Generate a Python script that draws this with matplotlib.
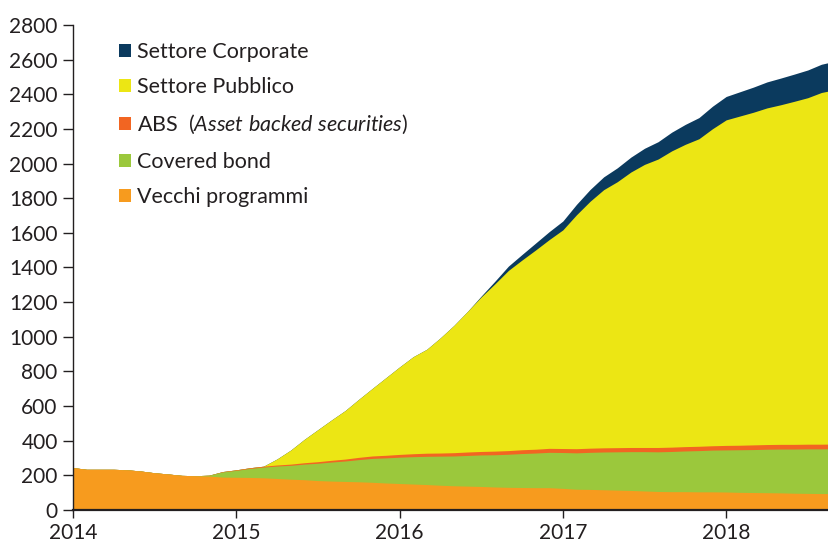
import numpy as np
import matplotlib
matplotlib.use("Agg")
import matplotlib.pyplot as plt
from matplotlib.patches import Patch

plt.rcParams['font.family'] = ['Lato', 'DejaVu Sans']
plt.rcParams['mathtext.fontset'] = 'custom'
plt.rcParams['mathtext.rm'] = 'Lato'
plt.rcParams['mathtext.it'] = 'Lato:italic'

# monthly values, Jan 2014 .. Sep 2018 (billions)
vecchi = [245, 235, 235, 235, 232, 225, 215, 208, 200, 198, 196, 190,
          189, 188, 186, 182, 178, 175, 170, 167, 165, 163, 160, 156,
          153, 150, 147, 143, 140, 138, 136, 133, 131, 130, 129, 129,
          125, 120, 119, 117, 115, 113, 110, 107, 106, 106, 105, 105,
          104, 102, 101, 100, 99, 97, 96, 95, 95]
covered = [0, 0, 0, 0, 0, 0, 0, 0, 0, 0, 5, 30,
           40, 52, 62, 72, 80, 90, 100, 110, 118, 128, 138, 145,
           152, 158, 163, 168, 172, 177, 182, 186, 191, 196, 200, 204,
           207, 210, 214, 218, 221, 224, 227, 229, 232, 235, 238, 241,
           243, 246, 248, 251, 253, 255, 257, 258, 259]
abs_ = [0, 0, 0, 0, 0, 0, 0, 0, 0, 0, 0, 2,
        3, 4, 5, 6, 7, 8, 9, 10, 11, 13, 14, 15,
        16, 17, 18, 18, 19, 20, 20, 21, 21, 22, 22, 23,
        23, 24, 24, 24, 24, 24, 24, 25, 25, 25, 25, 25,
        26, 26, 27, 27, 27, 27, 27, 27, 27]
pubblico = [0, 0, 0, 0, 0, 0, 0, 0, 0, 0, 0, 0,
            0, 0, 0, 35, 81, 135, 185, 233, 280, 335, 390, 448,
            505, 560, 600, 665, 735, 812, 892, 965, 1040, 1095, 1150, 1205,
            1262, 1350, 1425, 1490, 1535, 1590, 1634, 1665, 1710, 1745, 1775, 1830,
            1879, 1900, 1920, 1943, 1960, 1980, 2000, 2030, 2045]
corporate = [0, 0, 0, 0, 0, 0, 0, 0, 0, 0, 0, 0,
             0, 0, 0, 0, 0, 0, 0, 0, 0, 0, 0, 0,
             0, 0, 0, 0, 0, 0, 5, 15, 25, 32, 40, 46,
             51, 60, 68, 74, 80, 86, 93, 100, 108, 115, 122, 130,
             135, 140, 145, 150, 154, 157, 160, 163, 165]

labels = ['Vecchi programmi', 'Covered bond',
          'ABS  (' + r'$\mathit{Asset\ backed\ securities}$' + ')',
          'Settore Pubblico', 'Settore Corporate']
colors = ['#f79b1e', '#9bc83c', '#f26522', '#ece614', '#0b3a5e']
years = [2014, 2015, 2016, 2017, 2018]

series = [vecchi, covered, abs_, pubblico, corporate]
x = 2014 + np.arange(len(vecchi)) / 12
cum = np.cumsum(np.array(series, dtype=float), axis=0)

fig = plt.figure(figsize=(8.29, 5.42), dpi=100)
ax = fig.add_axes([0.088, 0.059, 0.912, 0.895])

# draw from the top total down, each filled from zero
for k in range(len(series) - 1, -1, -1):
    ax.fill_between(x, 0, cum[k], color=colors[k], linewidth=0)

ax.set_xlim(2014, 2018.63)
ax.set_ylim(0, 2800)
ax.set_yticks(range(0, 2801, 200))
ax.set_xticks(years)
ax.set_xticklabels([str(y) for y in years])
ax.tick_params(axis='y', length=7, width=1, labelsize=15, pad=4, colors='#231f20')
ax.tick_params(axis='x', length=6, width=1, labelsize=15, pad=3, colors='#231f20')
for s in ['top', 'right']:
    ax.spines[s].set_visible(False)
ax.spines['left'].set_color('#231f20')
ax.spines['bottom'].set_color('#231f20')
ax.spines['left'].set_linewidth(1)
ax.spines['bottom'].set_linewidth(1.6)

handles = [Patch(facecolor=colors[k], edgecolor='none') for k in range(4, -1, -1)]
ax.legend(handles, [labels[k] for k in range(4, -1, -1)], loc='upper left',
          bbox_to_anchor=(0.035, 1.005), frameon=False, fontsize=15.5,
          handlelength=0.55, handleheight=0.55, handletextpad=0.3,
          labelspacing=0.72, labelcolor='#231f20')

fig.savefig('out.png', dpi=100)
